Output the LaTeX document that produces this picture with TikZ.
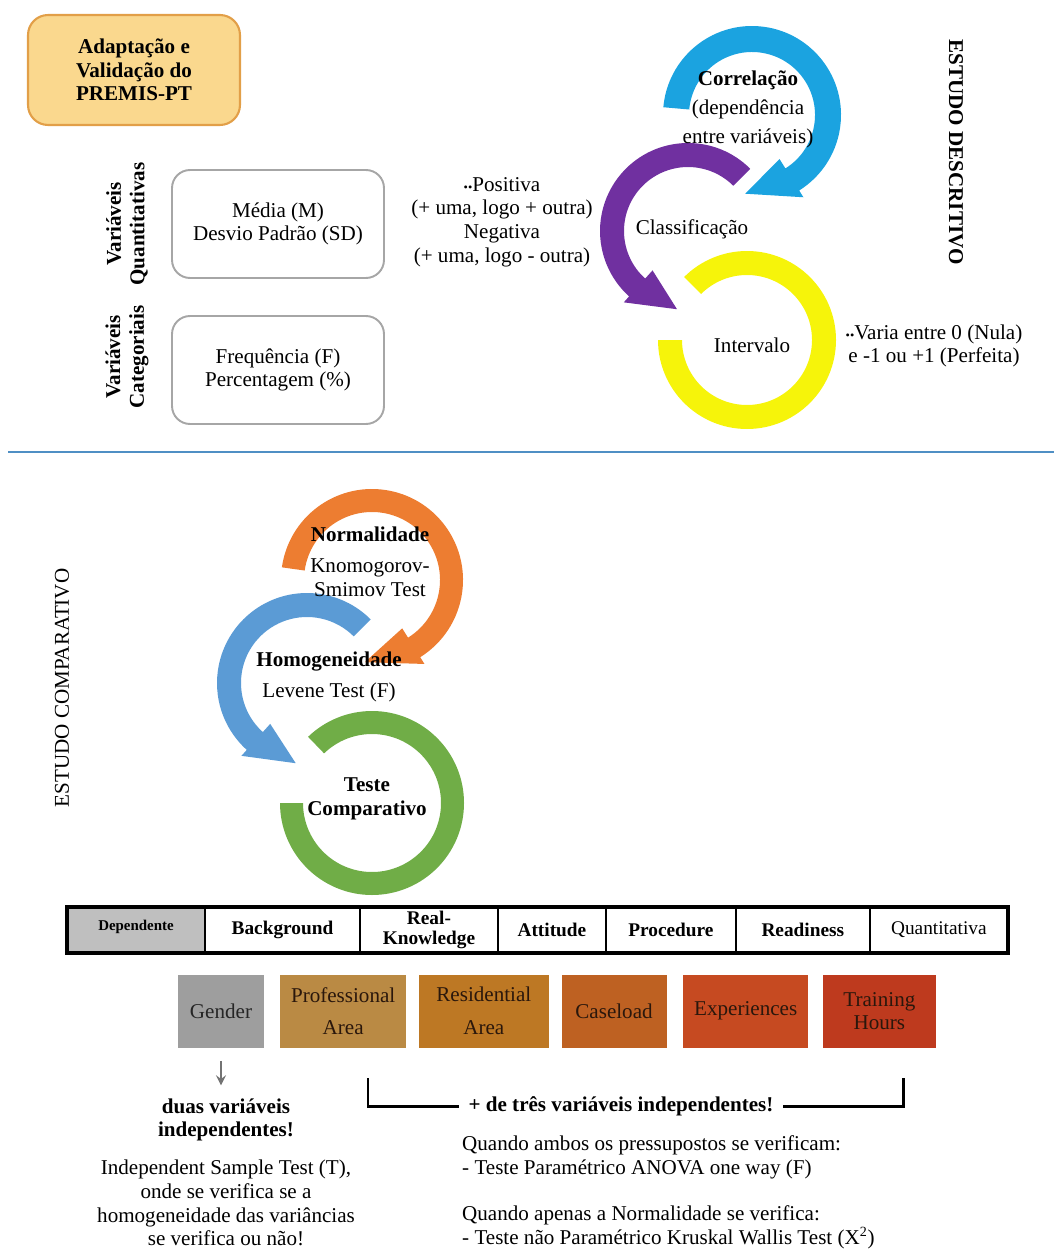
\documentclass[tikz,border=0pt]{standalone}
\usepackage{fontspec}
\setmainfont{Liberation Serif}
\usepackage{xcolor}
\usetikzlibrary{positioning}

\definecolor{premisfill}{HTML}{FAD88E}
\definecolor{premisline}{HTML}{E29F48}
\definecolor{correl}{HTML}{1BA3E0}
\definecolor{classif}{HTML}{7030A0}
\definecolor{interv}{HTML}{F6F40A}
\definecolor{normal}{HTML}{ED7D31}
\definecolor{homog}{HTML}{5B9BD5}
\definecolor{teste}{HTML}{70AD47}
\definecolor{divline}{HTML}{4F8FC4}
\definecolor{boxtext}{HTML}{2A170C}

\newcommand{\txtsize}{\fontsize{12}{13.5}\selectfont}

% thick ring arrow: center, r in, r out, start, end, tip, colour
\newcommand{\cyclearrow}[7]{%
  \begin{scope}[shift={#1}]
    \pgfmathsetmacro{\rmid}{(#2+#3)/2+3}
    \pgfmathsetmacro{\rhi}{#3+8}
    \pgfmathsetmacro{\rlo}{#2-11}
    \fill[#7] (#4:#3) arc[start angle=#4, end angle=#5, radius=#3]
      -- (#5:\rhi) -- (#6:\rmid) -- (#5:\rlo) -- (#5:#2)
      arc[start angle=#5, end angle=#4, radius=#2] -- cycle;
  \end{scope}}
% ring without head: center, r in, r out, start, end, colour
\newcommand{\cyclering}[6]{%
  \begin{scope}[shift={#1}]
    \fill[#6] (#4:#3) arc[start angle=#4, end angle=#5, radius=#3]
      -- (#5:#2) arc[start angle=#5, end angle=#4, radius=#2] -- cycle;
  \end{scope}}

\tikzset{
  txt/.style={font=\txtsize, align=center},
  titlebox/.style={rounded corners=0.4cm, draw=premisline, line width=1.2pt, fill=premisfill,
    minimum width=4.24cm, minimum height=2.2cm, align=center, font=\txtsize\bfseries},
  statbox/.style={rounded corners=0.36cm, draw=black!35, line width=1.1pt,
    minimum width=4.24cm, minimum height=2.16cm, align=center, font=\txtsize},
  cell/.style={draw, line width=1.1pt, minimum height=0.92cm, inner sep=1pt, outer sep=0pt,
    align=center, font=\fontsize{11}{11}\selectfont\bfseries},
  varbox/.style={minimum height=1.46cm, inner sep=1pt, align=center, text=boxtext, font=\txtsize},
  bracket/.style={line width=1.7pt},
}

\begin{document}
\begin{tikzpicture}[x=0.02cm, y=0.02cm, >=stealth]
  \useasboundingbox (0,0) rectangle (1054,-1250);

  % estudo descritivo
  \node[titlebox] (premis) at (134,-70) {Adaptação e\\Validação do\\PREMIS-PT};
  \node[txt, rotate=90, font=\txtsize\bfseries] (quantlbl) at (127,-224) {Variáveis\\Quantitativas};
  \node[txt, rotate=90, font=\txtsize\bfseries] (categlbl) at (127,-357) {Variáveis\\Categoriais};
  \node[statbox] (media) at (278,-224) {Média (M)\\Desvio Padrão (SD)};
  \node[statbox] (freq) at (278,-370) {Frequência (F)\\Percentagem (\%)};
  \node[txt] (sinal) at (502,-222) {{\scriptsize ••}Positiva\\(+ uma, logo + outra)\\Negativa\\(+ uma, logo - outra)};

  \cyclering{(747,-340)}{65}{89}{180}{495}{interv}
  \cyclearrow{(688,-231)}{64}{88}{45}{228}{262}{classif}
  \cyclearrow{(752,-115)}{63}{89}{175}{-58}{-95}{correl}

  \node[txt] (correlacao) at (748,-109) {\textbf{Correlação}\\[3pt](dependência\\[3pt]entre variáveis)};
  \node[txt] (classificacao) at (692,-229) {Classificação};
  \node[txt] (intervalo) at (752,-345) {Intervalo};
  \node[txt] (varia) at (934,-346) {{\scriptsize ••}Varia entre 0 (Nula)\\ e -1 ou +1 (Perfeita)};
  \node[txt, rotate=-90, font=\txtsize\bfseries] (descritivo) at (956,-152) {ESTUDO DESCRITIVO};

  \draw[divline, line width=1.2pt] (8,-452) -- (1054,-452);

  % estudo comparativo
  \node[txt, rotate=90] (comparativo) at (62,-688) {ESTUDO COMPARATIVO};

  \cyclering{(372,-803)}{69}{92}{180}{494}{teste}
  \cyclearrow{(307,-683)}{66}{90}{45}{228}{262}{homog}
  \cyclearrow{(372,-580)}{68}{91}{172}{-58}{-95}{normal}

  \node[txt] (normalidade) at (370,-562) {\textbf{Normalidade}\\[4pt]Knomogorov-\\Smimov Test};
  \node[txt] (homogeneidade) at (329,-677) {\textbf{Homogeneidade}\\[4pt]Levene Test (F)};
  \node[txt, font=\txtsize\bfseries] (comparar) at (367,-799) {Teste\\Comparativo};

  % variaveis
  \node[cell, fill=black!25, minimum width=2.76cm, font=\fontsize{8.5}{9}\selectfont\bfseries,
    text depth=0.2cm] (dependente) at (136,-930) {Dependente};
  \node[cell, minimum width=3.10cm, right=0pt of dependente] (background) {Background};
  \node[cell, minimum width=2.76cm, right=0pt of background] (realknow) {Real-\\Knowledge};
  \node[cell, minimum width=2.16cm, right=0pt of realknow] (attitude) {Attitude};
  \node[cell, minimum width=2.60cm, right=0pt of attitude] (procedure) {Procedure};
  \node[cell, minimum width=2.68cm, right=0pt of procedure] (readiness) {Readiness};
  \node[cell, minimum width=2.76cm, right=0pt of readiness, font=\fontsize{11}{11}\selectfont] (quantitativa) {Quantitativa};
  \draw[line width=2pt] (dependente.north west) rectangle (quantitativa.south east);

  \node[varbox, fill=black!38, minimum width=1.74cm, text=black!85] (gender) at (221,-1011) {Gender};
  \node[varbox, fill={rgb,255:red,186;green,138;blue,68}, minimum width=2.52cm, right=0.3cm of gender] (profarea) {Professional\\[5pt]Area};
  \node[varbox, fill={rgb,255:red,189;green,120;blue,36}, minimum width=2.6cm, right=0.24cm of profarea] (resarea) {Residential\\[5pt]Area};
  \node[varbox, fill={rgb,255:red,190;green,97;blue,34}, minimum width=2.1cm, right=0.24cm of resarea] (caseload) {Caseload};
  \node[varbox, fill={rgb,255:red,198;green,74;blue,33}, minimum width=2.5cm, right=0.32cm of caseload] (experiences) {Experiences};
  \node[varbox, fill={rgb,255:red,190;green,58;blue,30}, minimum width=2.26cm, right=0.28cm of experiences] (training) {Training\\Hours};

  % testes
  \node[txt, font=\txtsize\bfseries] (duas) at (226,-1120) {duas variáveis\\independentes!};
  \node[txt] (independent) at (226,-1203) {Independent Sample Test (T),\\onde se verifica se a\\homogeneidade das variâncias\\se verifica ou não!};
  \coordinate (duastop) at ([yshift=0.14cm]duas.north);
  \draw[->, black!55, line width=1.5pt] ([yshift=-0.26cm]gender.south) -- (gender.south |- duastop);

  \node[txt, font=\txtsize\bfseries, inner sep=5pt] (tres) at (621,-1106) {+ de três variáveis independentes!};
  \coordinate (brl) at (368,-1078);
  \coordinate (brr) at (903,-1078);
  \draw[bracket] (brl) |- (tres.west);
  \draw[bracket] (brr) |- (tres.east);

  \node[txt, align=left, anchor=west] (anova) at (456,-1157) {Quando ambos os pressupostos se verificam:\\ - Teste Paramétrico ANOVA one way (F)};
  \node[txt, align=left, anchor=west] (kruskal) at (456,-1227) {Quando apenas a Normalidade se verifica:\\- Teste não Paramétrico Kruskal Wallis Test (X\textsuperscript{2})};
\end{tikzpicture}
\end{document}
